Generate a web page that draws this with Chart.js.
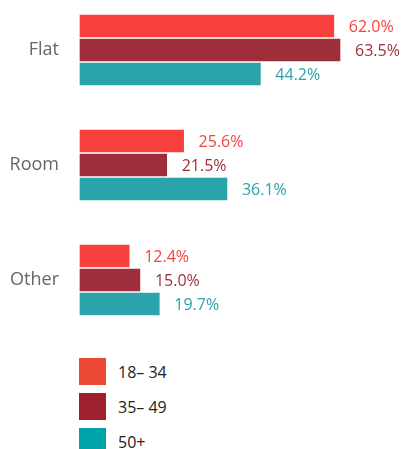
<!DOCTYPE html>
<html>
<head>
<meta charset="utf-8">
<script src="https://cdn.jsdelivr.net/npm/chart.js@4"></script>
<style>
  body { margin: 0; background: #fff; font-family: "Open Sans", sans-serif; }
  #wrap { position: relative; width: 401px; height: 449px; overflow: hidden; }
  #legend { position: absolute; left: 79px; top: 358px; }
  .item { display: flex; align-items: center; height: 27px; margin-bottom: 8px; }
  .box { width: 27px; height: 27px; margin-right: 12px; }
  .lbl { font-size: 16px; color: #222; }
</style>
</head>
<body>
<div id="wrap">
  <canvas id="chart" width="401" height="340"></canvas>
  <div id="legend"></div>
</div>
<script>
// categories and series
const categories = ['Flat', 'Room', 'Other'];
const seriesNames = ['18\u2013 34', '35\u2013 49', '50+'];
const young = [62.0, 25.6, 12.4];
const middle = [63.5, 21.5, 15.0];
const older = [44.2, 36.1, 19.7];

const barColors = ['#F8413D', '#9E2E3A', '#2AA3AB'];
const legendColors = ['#EA4A36', '#9E1F2D', '#00A3A8'];

// value labels at the end of each bar
const valueLabels = {
  id: 'valueLabels',
  afterDatasetsDraw(chart) {
    const ctx = chart.ctx;
    ctx.save();
    ctx.font = '16px "Open Sans"';
    ctx.textBaseline = 'middle';
    chart.data.datasets.forEach((ds, i) => {
      chart.getDatasetMeta(i).data.forEach((bar, j) => {
        ctx.fillStyle = barColors[i];
        ctx.fillText(ds.data[j].toFixed(1) + '%', bar.x + 14, bar.y + 1);
      });
    });
    ctx.restore();
  }
};

const datasets = [young, middle, older].map((d, i) => ({
  label: seriesNames[i],
  data: d,
  backgroundColor: barColors[i],
  borderColor: 'rgba(255,255,255,0.25)',
  borderWidth: 1,
  borderSkipped: false,
  barThickness: 24,
  clip: false
}));

new Chart(document.getElementById('chart'), {
  type: 'bar',
  data: { labels: categories, datasets: datasets },
  options: {
    indexAxis: 'y',
    responsive: false,
    animation: false,
    layout: { padding: { top: 50, bottom: 60, right: 1, left: 0 } },
    plugins: { legend: { display: false }, tooltip: { enabled: false } },
    scales: {
      x: { display: false, min: 0, max: 77.8 },
      y: {
        offset: false,
        grid: { display: false },
        border: { display: false },
        ticks: { color: '#666', font: { family: 'Open Sans', size: 18 }, padding: 12 },
        afterFit(scale) { scale.width = 79; }
      }
    }
  },
  plugins: [valueLabels]
});

// legend
const legend = document.getElementById('legend');
seriesNames.forEach((name, i) => {
  const item = document.createElement('div');
  item.className = 'item';
  item.innerHTML = '<div class="box" style="background:' + legendColors[i] + '"></div><span class="lbl">' + name + '</span>';
  legend.appendChild(item);
});
</script>
</body>
</html>
